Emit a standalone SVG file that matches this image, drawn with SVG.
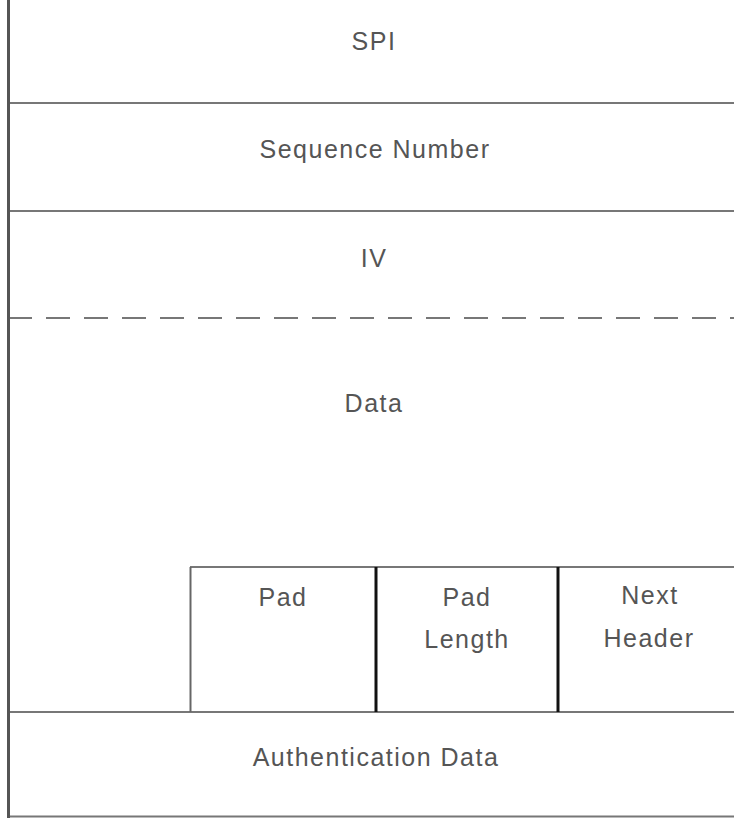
<svg xmlns="http://www.w3.org/2000/svg" width="734" height="818" viewBox="0 0 734 818">
<style>
.t{font-family:"Liberation Sans",Arial,sans-serif;font-size:25px;fill:#555;letter-spacing:1.5px;text-anchor:middle}
.h{stroke:#777;stroke-width:2;fill:none}
.v{stroke:#111;stroke-width:3;fill:none}
</style>
<rect width="734" height="818" fill="#fff"/>
<g id="connectors">
<line class="h" x1="8" y1="103" x2="734" y2="103"/>
<line class="h" x1="8" y1="211" x2="734" y2="211"/>
<line class="h" x1="8" y1="318" x2="734" y2="318" stroke-dasharray="24 14"/>
<line class="h" x1="8" y1="712" x2="734" y2="712"/>
<line class="h" x1="8" y1="816.5" x2="734" y2="816.5"/>
<line x1="8.5" y1="0" x2="8.5" y2="818" stroke="#555" stroke-width="3"/>
</g>
<g id="spi"><text class="t" x="374" y="50">SPI</text></g>
<g id="seq"><text class="t" x="375" y="158">Sequence Number</text></g>
<g id="iv"><text class="t" x="374" y="267">IV</text></g>
<g id="data"><text class="t" x="374" y="412">Data</text></g>
<g id="trailer">
<line class="h" x1="190" y1="567" x2="734" y2="567"/>
<line x1="190.5" y1="567" x2="190.5" y2="712" stroke="#666" stroke-width="2"/>
<line class="v" x1="376" y1="567" x2="376" y2="712"/>
<line class="v" x1="558" y1="567" x2="558" y2="712"/>
</g>
<g id="pad"><text class="t" x="283" y="606">Pad</text></g>
<g id="padlen"><text class="t" x="467" y="606">Pad</text><text class="t" x="467" y="648">Length</text></g>
<g id="nexthdr"><text class="t" x="650" y="604">Next</text><text class="t" x="649" y="647">Header</text></g>
<g id="auth"><text class="t" x="376" y="766">Authentication Data</text></g>
</svg>
